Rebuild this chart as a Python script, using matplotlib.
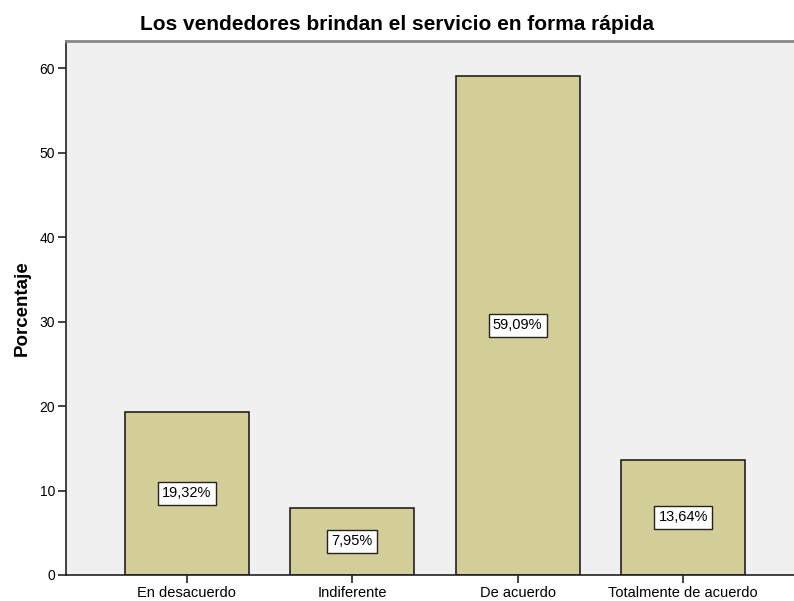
import matplotlib.pyplot as plt
import numpy as np

categories = ["En desacuerdo", "Indiferente", "De acuerdo", "Totalmente de acuerdo"]
percentages = [19.32, 7.95, 59.09, 13.64]
y_ticks = [0, 10, 20, 30, 40, 50, 60]

plt.rcParams['font.family'] = ['Liberation Sans', 'DejaVu Sans']

fig = plt.figure(figsize=(7.94, 6.01), dpi=100)
ax = fig.add_axes([66 / 794, 1 - 575 / 601, 1 - 66 / 794, (575 - 41) / 601])
ax.set_facecolor('#f0f0f0')

x = np.arange(len(categories))
ax.bar(x, percentages, width=0.75, color='#d3ce97', edgecolor='#222222', linewidth=1.2, zorder=2)

# value labels in white boxes at mid-height of each bar
for xi, val in zip(x, percentages):
    ax.text(xi, val / 2, f"{val:.2f}%".replace('.', ','), ha='center', va='center',
            fontsize=10.5, zorder=3,
            bbox=dict(boxstyle='square,pad=0.3', facecolor='white', edgecolor='#222222', linewidth=1))

ax.set_xlim(-0.73, 3.67)
ax.set_ylim(0, 63.2)
ax.set_xticks(x)
ax.set_xticklabels(categories, fontsize=10.5)
ax.set_yticks(y_ticks)
ax.set_yticklabels([str(t) for t in y_ticks], fontsize=10)
ax.tick_params(axis='both', direction='out', length=6, width=1.2, color='#222222', pad=2)

ax.spines['top'].set_color('#888888')
ax.spines['top'].set_linewidth(2)
ax.spines['right'].set_visible(False)
ax.spines['left'].set_color('#222222')
ax.spines['bottom'].set_color('#222222')
ax.spines['left'].set_linewidth(1.2)
ax.spines['bottom'].set_linewidth(1.2)

ax.set_ylabel("Porcentaje", fontsize=13.5, fontweight='bold', labelpad=6)
fig.text(0.5, 1 - 24 / 601, "Los vendedores brindan el servicio en forma rápida",
         ha='center', va='center', fontsize=15, fontweight='bold')

fig.savefig('out.png', dpi=100)
